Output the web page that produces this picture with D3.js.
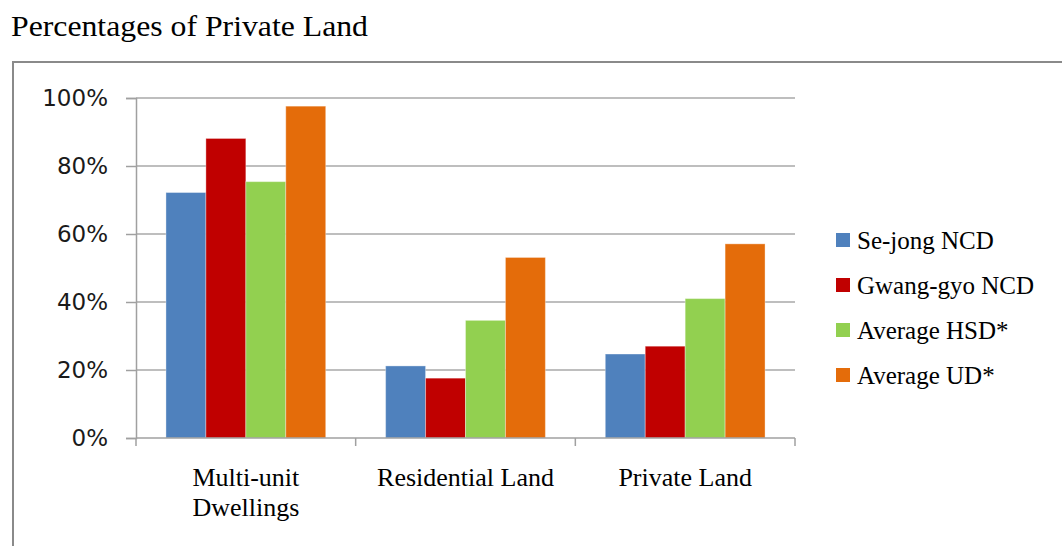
<!DOCTYPE html>
<html>
<head>
<meta charset="utf-8">
<script src="https://cdn.jsdelivr.net/npm/d3@7"></script>
<style>
  html, body { margin: 0; padding: 0; background: #fff; }
  svg { display: block; }
  .serif { font-family: "Liberation Serif", "Times New Roman", "DejaVu Serif", serif; }
  .sans { font-family: "DejaVu Sans", Verdana, sans-serif; }
</style>
</head>
<body>
<svg id="chart" width="1062" height="546"></svg>
<script>
// Share of land / housing in private hands, by development type
const categories = ["Multi-unit Dwellings", "Residential Land", "Private Land"];
const categoryLines = [["Multi-unit", "Dwellings"], ["Residential Land"], ["Private Land"]];
const seriesNames = ["Se-jong NCD", "Gwang-gyo NCD", "Average HSD*", "Average UD*"];
const seriesColors = ["#4F81BD", "#C00000", "#92D050", "#E46C0A"];
const sejong   = [0.722, 0.212, 0.247];
const gwanggyo = [0.881, 0.176, 0.270];
const avgHSD   = [0.754, 0.346, 0.410];
const avgUD    = [0.976, 0.531, 0.571];
const seriesValues = [sejong, gwanggyo, avgHSD, avgUD];
const yTicks = [0, 0.2, 0.4, 0.6, 0.8, 1.0];
const title = "Percentages of Private Land";

const svg = d3.select("#chart");
const plot = { left: 136, right: 795, top: 98, bottom: 438 };

// frame around the chart (runs off the right and bottom edges)
svg.append("rect")
  .attr("x", 13).attr("y", 62)
  .attr("width", 1100).attr("height", 600)
  .attr("fill", "none").attr("stroke", "#8a8a8a").attr("stroke-width", 2);

svg.append("text")
  .attr("class", "serif")
  .attr("x", 11).attr("y", 36)
  .attr("font-size", 29).attr("fill", "#000")
  .attr("textLength", 357).attr("lengthAdjust", "spacingAndGlyphs")
  .text(title);

const x0 = d3.scaleBand().domain(categories).range([plot.left, plot.right]).padding(0);
const x1 = d3.scaleBand().domain(seriesNames).range([0, x0.bandwidth()])
  .paddingInner(0).paddingOuter(0.75);
const y = d3.scaleLinear().domain([0, 1]).range([plot.bottom, plot.top]);

// horizontal gridlines
svg.append("g").selectAll("line").data(yTicks.filter(d => d > 0)).join("line")
  .attr("x1", plot.left).attr("x2", plot.right)
  .attr("y1", d => y(d)).attr("y2", d => y(d))
  .attr("stroke", "#a9a9a9").attr("stroke-width", 1.5);

// y axis
const yAxis = svg.append("g")
  .attr("transform", `translate(${plot.left},0)`)
  .call(d3.axisLeft(y).tickValues(yTicks).tickFormat(d3.format(".0%"))
    .tickSize(10).tickPadding(18));
yAxis.select(".domain").attr("stroke", "#a0a0a0").attr("stroke-width", 1.5);
yAxis.selectAll(".tick line").attr("stroke", "#a0a0a0").attr("stroke-width", 1.5);
yAxis.selectAll(".tick text")
  .attr("class", "sans")
  .attr("font-family", null)
  .attr("font-size", 23).attr("fill", "#1a1a1a");
yAxis.attr("font-family", null);

// bars
const groups = svg.append("g").selectAll("g").data(categories).join("g")
  .attr("transform", c => `translate(${x0(c)},0)`);
groups.selectAll("rect")
  .data((c, ci) => seriesNames.map((s, si) => ({ s, si, v: seriesValues[si][ci] })))
  .join("rect")
  .attr("x", d => x1(d.s))
  .attr("width", x1.bandwidth())
  .attr("y", d => y(d.v))
  .attr("height", d => y(0) - y(d.v))
  .attr("fill", d => seriesColors[d.si])
  .attr("stroke", "rgba(255,255,255,0.35)")
  .attr("stroke-width", 1);

// x axis line and category boundary ticks
svg.append("line")
  .attr("x1", plot.left).attr("x2", plot.right)
  .attr("y1", y(0)).attr("y2", y(0))
  .attr("stroke", "#a0a0a0").attr("stroke-width", 1.5);
const boundaries = categories.map(c => x0(c)).concat([x0(categories[categories.length - 1]) + x0.bandwidth()]);
svg.append("g").selectAll("line").data(boundaries).join("line")
  .attr("x1", d => d).attr("x2", d => d)
  .attr("y1", y(0)).attr("y2", y(0) + 8)
  .attr("stroke", "#a0a0a0").attr("stroke-width", 1.5);

// category labels
const xl = svg.append("g").selectAll("text").data(categories).join("text")
  .attr("class", "serif")
  .attr("x", c => x0(c) + x0.bandwidth() / 2)
  .attr("y", 486)
  .attr("text-anchor", "middle")
  .attr("font-size", 26).attr("fill", "#000");
xl.selectAll("tspan").data((c, i) => categoryLines[i]).join("tspan")
  .attr("x", function () { return d3.select(this.parentNode).attr("x"); })
  .attr("dy", (d, i) => i === 0 ? 0 : 30)
  .text(d => d);

// legend
const legendY = d3.scalePoint().domain(seriesNames).range([240, 375]);
const legend = svg.append("g").selectAll("g").data(seriesNames).join("g")
  .attr("transform", s => `translate(836,${legendY(s)})`);
legend.append("rect")
  .attr("x", 0).attr("y", -7).attr("width", 14).attr("height", 14)
  .attr("fill", (s, i) => seriesColors[i]);
legend.append("text")
  .attr("class", "serif")
  .attr("x", 21).attr("y", 9)
  .attr("font-size", 25).attr("fill", "#000")
  .text(s => s);
</script>
</body>
</html>
